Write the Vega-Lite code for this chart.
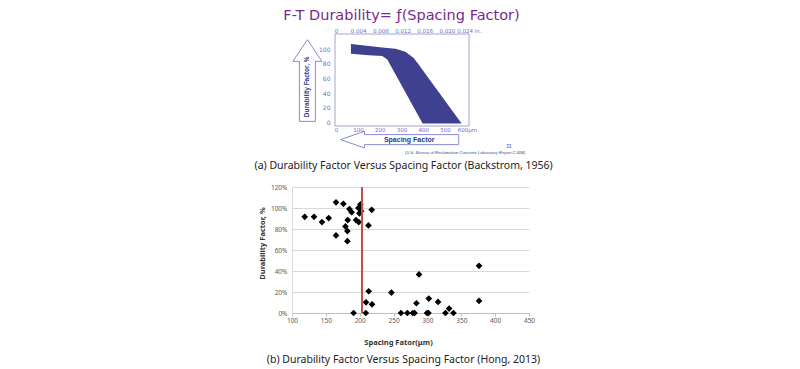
{
  "$schema": "https://vega.github.io/schema/vega-lite/v6.json",
  "background": "white",
  "padding": {"left": 254, "top": 7, "right": 5, "bottom": 5},
  "config": {"view": {"stroke": null}, "font": "Noto Sans", "axis": {"labelOverlap": false}},
  "bounds": "flush",
  "spacing": 61,
  "vconcat": [
    {
      "width": 177,
      "height": 92,
      "title": {
        "text": "F-T Durability= ƒ(Spacing Factor)",
        "font": "DejaVu Sans",
        "fontSize": 14.5,
        "fontWeight": "normal",
        "color": "#7a2a8c",
        "anchor": "middle",
        "dx": 21,
        "offset": 5
      },
      "data": {
        "values": [
          {"sf": 68, "hi": 107, "lo": 93.5},
          {"sf": 150, "hi": 104.3, "lo": 91.7},
          {"sf": 212, "hi": 102.3, "lo": 90.4},
          {"sf": 235, "hi": 101.5, "lo": 85.9},
          {"sf": 273, "hi": 100.3, "lo": 65.4},
          {"sf": 318, "hi": 96.2, "lo": 41.1},
          {"sf": 356, "hi": 88, "lo": 20.6},
          {"sf": 379, "hi": 79, "lo": 8.2},
          {"sf": 397, "hi": 71.6, "lo": -1.5},
          {"sf": 576, "hi": -1.5, "lo": -1.5}
        ]
      },
      "resolve": {"axis": {"x": "independent"}},
      "layer": [
        {
          "data": {"values": [{}]},
          "mark": {"type": "rect", "fillOpacity": 0, "stroke": "#a4a4cc", "strokeWidth": 1},
          "encoding": {
            "x": {"datum": -5, "type": "quantitative", "axis": null},
            "x2": {"datum": 610},
            "y": {"datum": -5, "type": "quantitative"},
            "y2": {"datum": 120.6}
          }
        },
        {
          "mark": {"type": "area", "color": "#3f408f", "orient": "vertical", "interpolate": "linear"},
          "encoding": {
            "x": {
              "field": "sf",
              "type": "quantitative",
              "scale": {"domain": [-202.4, 610], "nice": false, "zero": false},
              "axis": {
                "orient": "bottom",
                "values": [0, 100, 200, 300, 400, 500, 600],
                "tickCount": 50,
                "labelExpr": "datum.value == 600 ? '600μm' : datum.label",
                "labelOverlap": false,
                "ticks": false,
                "domain": false,
                "grid": false,
                "labelFont": "DejaVu Sans",
                "labelFontSize": 5.5,
                "labelColor": "#6c6cd0",
                "labelPadding": 1,
                "labelFlush": false,
                "title": "Spacing Factor",
                "titleFont": "Liberation Sans",
                "titleFontSize": 7,
                "titleFontWeight": "bold",
                "titleColor": "#2a3890",
                "titleX": 116.7,
                "titleY": 13.3,
                "titleBaseline": "middle",
                "titleAlign": "center",
                "zindex": 1
              }
            },
            "y": {
              "field": "hi",
              "type": "quantitative",
              "scale": {"domain": [-5, 120.6], "nice": false, "zero": false},
              "axis": {
                "values": [0, 20, 40, 60, 80, 100],
                "tickCount": 50,
                "labelOverlap": false,
                "offset": -43,
                "ticks": false,
                "domain": false,
                "grid": false,
                "labelFont": "DejaVu Sans",
                "labelFontSize": 6,
                "labelColor": "#6c6cd0",
                "labelPadding": 5,
                "title": "Durability Factor, %",
                "titleFont": "Liberation Sans",
                "titleFontSize": 6.5,
                "titleFontWeight": "bold",
                "titleColor": "#2a3890",
                "titleX": -29,
                "titleY": 52.3,
                "titleAngle": -90,
                "titleBaseline": "middle",
                "titleAlign": "center",
                "zindex": 1
              }
            },
            "y2": {"field": "lo"}
          }
        },
        {
          "mark": {"type": "point", "opacity": 0},
          "encoding": {
            "x": {
              "field": "sf",
              "type": "quantitative",
              "axis": {
                "orient": "top",
                "values": [0, 101.6, 203.2, 304.8, 406.4, 508, 609.6],
                "tickCount": 50,
                "labelExpr": "datum.value == 0 ? '0' : datum.value > 600 ? '0.024 in.' : format(datum.value / 25400, '.3f')",
                "labelOverlap": false,
                "ticks": false,
                "domain": false,
                "grid": false,
                "labelFont": "DejaVu Sans",
                "labelFontSize": 5.5,
                "labelColor": "#6c6cd0",
                "labelPadding": 1,
                "labelFlush": false,
                "title": null
              }
            },
            "y": {"field": "hi", "type": "quantitative"}
          }
        },
        {
          "data": {"values": [{}]},
          "mark": {
            "type": "point",
            "shape": "M0,-1L0.355,-0.469L0.196,-0.469L0.196,1L-0.196,1L-0.196,-0.469L-0.355,-0.469Z",
            "size": 6675,
            "filled": true,
            "fill": "white",
            "stroke": "#8a8ad8",
            "strokeWidth": 1,
            "opacity": 1
          },
          "encoding": {
            "x": {"datum": -131.7, "type": "quantitative", "axis": null},
            "y": {"datum": 57.1, "type": "quantitative"}
          }
        },
        {
          "data": {"values": [{}]},
          "mark": {
            "type": "point",
            "shape": "M-1,0L-0.598,-0.1415L-0.598,-0.085L1,-0.085L1,0.085L-0.598,0.085L-0.598,0.1415Z",
            "size": 13924,
            "filled": true,
            "fill": "white",
            "stroke": "#8a8ad8",
            "strokeWidth": 1,
            "opacity": 1
          },
          "encoding": {
            "x": {"datum": 291.9, "type": "quantitative", "axis": null},
            "y": {"datum": -23.6, "type": "quantitative"}
          }
        },
        {
          "data": {"values": [{}]},
          "mark": {"type": "text", "font": "Liberation Sans", "fontStyle": "italic", "fontSize": 4.2, "color": "#3a4a9a", "baseline": "middle", "align": "center"},
          "encoding": {
            "x": {"datum": 592.5, "type": "quantitative", "axis": null},
            "y": {"datum": -41.6, "type": "quantitative"},
            "text": {"value": "(U.S. Bureau of Reclamation Concrete Laboratory Report C-824)"}
          }
        },
        {
          "data": {"values": [{}]},
          "mark": {"type": "text", "font": "Liberation Sans", "fontSize": 4.5, "color": "#3a4a9a", "baseline": "middle", "align": "center"},
          "encoding": {
            "x": {"datum": 792, "type": "quantitative", "axis": null},
            "y": {"datum": -34, "type": "quantitative"},
            "text": {"value": "33"}
          }
        },
        {
          "data": {"values": [{}]},
          "mark": {"type": "text", "font": "Noto Sans", "fontSize": 10.5, "color": "#222222", "baseline": "middle", "align": "center"},
          "encoding": {
            "x": {"datum": 310, "type": "quantitative", "axis": null},
            "y": {"datum": -60, "type": "quantitative"},
            "text": {"value": "(a) Durability Factor Versus Spacing Factor (Backstrom, 1956)"}
          }
        }
      ]
    },
    {
      "width": 237,
      "height": 126,
      "title": {
        "text": "(b) Durability Factor Versus Spacing Factor (Hong, 2013)",
        "orient": "bottom",
        "font": "Noto Sans",
        "fontSize": 10.5,
        "fontWeight": "normal",
        "color": "#222222",
        "anchor": "middle",
        "dx": -7,
        "offset": 9
      },
      "data": {
        "values": [
          {"sf": 118.8, "df": 91.6}, {"sf": 132.5, "df": 91.6}, {"sf": 144.3, "df": 86.6},
          {"sf": 154.2, "df": 90.4}, {"sf": 165, "df": 105.4}, {"sf": 165, "df": 73.9},
          {"sf": 175.9, "df": 104}, {"sf": 178.9, "df": 82.5}, {"sf": 181.8, "df": 78},
          {"sf": 181.8, "df": 68.4}, {"sf": 184.8, "df": 99}, {"sf": 182.3, "df": 88.5},
          {"sf": 188, "df": 96}, {"sf": 194.5, "df": 88.5}, {"sf": 198.5, "df": 86.6},
          {"sf": 198, "df": 100}, {"sf": 201, "df": 103.4}, {"sf": 202, "df": 97},
          {"sf": 199.6, "df": 94.9}, {"sf": 200.5, "df": 101}, {"sf": 212.9, "df": 83.4},
          {"sf": 217.7, "df": 98.3},
          {"sf": 191, "df": 0}, {"sf": 209, "df": 0}, {"sf": 213.3, "df": 20.7},
          {"sf": 209.3, "df": 10.2}, {"sf": 218.2, "df": 8.3}, {"sf": 246.8, "df": 19.5},
          {"sf": 261, "df": 0}, {"sf": 270.4, "df": 0}, {"sf": 278.3, "df": 0},
          {"sf": 281, "df": 0}, {"sf": 283.7, "df": 9.3}, {"sf": 287.6, "df": 36.7},
          {"sf": 299.4, "df": 0}, {"sf": 301.5, "df": 0}, {"sf": 302, "df": 13.7},
          {"sf": 315.7, "df": 10.5}, {"sf": 326.6, "df": 0}, {"sf": 332, "df": 4.2},
          {"sf": 338.4, "df": 0}, {"sf": 376.2, "df": 44.9}, {"sf": 376.2, "df": 11.5}
        ]
      },
      "layer": [
        {
          "mark": {"type": "point", "shape": "diamond", "filled": true, "color": "black", "size": 45, "opacity": 1},
          "encoding": {
            "x": {
              "field": "sf",
              "type": "quantitative",
              "scale": {"domain": [100, 450], "nice": false, "zero": false},
              "axis": {
                "values": [100, 150, 200, 250, 300, 350, 400, 450],
                "tickCount": 50,
                "labelOverlap": false,
                "grid": false,
                "domainColor": "#bfbfbf",
                "tickColor": "#bfbfbf",
                "tickSize": 3,
                "labelFontSize": 6.5,
                "labelColor": "#595959",
                "labelPadding": 1,
                "labelFlush": false,
                "title": "Spacing Fator(μm)",
                "titleFontSize": 7.5,
                "titleFontWeight": "bold",
                "titleColor": "#333333",
                "titleX": 106,
                "titleY": 29,
                "titleBaseline": "middle",
                "titleAlign": "center"
              }
            },
            "y": {
              "field": "df",
              "type": "quantitative",
              "scale": {"domain": [0, 120], "nice": false, "zero": false},
              "axis": {
                "values": [0, 20, 40, 60, 80, 100, 120],
                "tickCount": 50,
                "labelExpr": "datum.value + '%'",
                "labelOverlap": false,
                "grid": true,
                "gridColor": "#d9d9d9",
                "domainColor": "#d9d9d9",
                "ticks": false,
                "labelFontSize": 6.5,
                "labelColor": "#595959",
                "labelPadding": 5,
                "title": "Durability Factor, %",
                "titleFontSize": 7.5,
                "titleFontWeight": "bold",
                "titleColor": "#333333",
                "titleX": -30,
                "titleY": 56,
                "titleAngle": -90,
                "titleBaseline": "middle",
                "titleAlign": "center"
              }
            }
          }
        },
        {
          "mark": {"type": "rule", "color": "#c0504d", "strokeWidth": 1.2},
          "encoding": {
            "x": {"datum": 203, "type": "quantitative"}
          }
        }
      ]
    }
  ]
}
